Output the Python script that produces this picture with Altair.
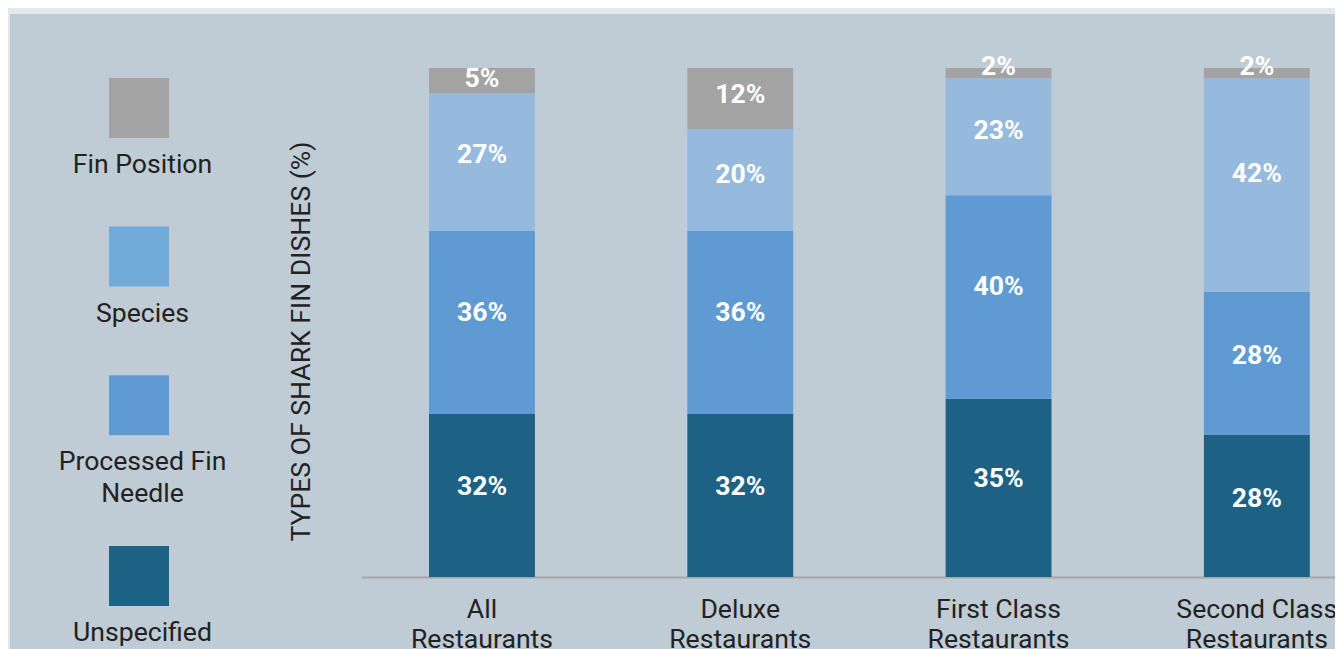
import altair as alt
import pandas as pd

# ---- data ----
categories = ["All Restaurants", "Deluxe Restaurants", "First Class Restaurants", "Second Class Restaurants"]
dish_types = ["Unspecified", "Processed Fin Needle", "Species", "Fin Position"]
unspecified = [32, 32, 35, 28]
processed_fin_needle = [36, 36, 40, 28]
species = [27, 20, 23, 42]
fin_position = [5, 12, 2, 2]

bar_colors = ["#1d6184", "#5f9bd2", "#96b9de", "#a3a3a3"]
legend_order = ["Fin Position", "Species", "Processed Fin Needle", "Unspecified"]
legend_colors = ["#a3a3a3", "#70abda", "#5f9bd2", "#1d6184"]
legend_texts = ["Fin Position", "Species", "Processed Fin\nNeedle", "Unspecified"]

y_title = "TYPES OF SHARK FIN DISHES (%)"

series = [unspecified, processed_fin_needle, species, fin_position]
rows = []
for ci, cat in enumerate(categories):
    for ti, t in enumerate(dish_types):
        rows.append({"category": cat, "type": t, "value": series[ti][ci], "order": ti})
df = pd.DataFrame(rows)

legend_df = pd.DataFrame({"type": legend_order, "label": legend_texts,
                          "order": list(range(len(legend_order)))})

FONT = "Roboto"
TEXT = "#222222"
FS = 26.6
PAGE_BG = "#e5e7ea"
PANEL_BG = "#bfccd5"

# ---- main stacked bars ----
base = alt.Chart(df).transform_stack(
    stack="value",
    groupby=["category"],
    as_=["y0", "y1"],
    sort=[alt.SortField("order", "ascending")],
)

x_scale = alt.Scale(paddingInner=0.59, paddingOuter=0.1805, align=0.7296)
y_scale = alt.Scale(domain=[0, 100], nice=False, zero=True)

x_enc = alt.X(
    "category:N",
    sort=categories,
    scale=x_scale,
    axis=alt.Axis(
        title=None,
        labelAngle=0,
        labelExpr="[substring(datum.label, 0, indexof(datum.label, ' Restaurants')), 'Restaurants']",
        labelFont=FONT,
        labelFontSize=FS,
        labelColor=TEXT,
        labelLineHeight=30,
        labelBaseline="alphabetic",
        labelPadding=40,
        ticks=False,
        tickSize=0,
        domainColor="#a6a6a6",
        domainWidth=2,
        grid=False,
    ),
)

bars = base.mark_bar().encode(
    x=x_enc,
    y=alt.Y(
        "y0:Q",
        scale=y_scale,
        axis=alt.Axis(
            title=y_title,
            labels=False,
            ticks=False,
            domain=False,
            grid=False,
            titleFont=FONT,
            titleFontSize=FS,
            titleFontWeight="normal",
            titleColor=TEXT,
            titlePadding=46,
            titleY=273,
        ),
    ),
    y2="y1:Q",
    color=alt.Color("type:N", scale=alt.Scale(domain=dish_types, range=bar_colors), legend=None),
)

labels = base.transform_calculate(
    ly="datum.value < 4 ? datum.y1 + 0.1 : datum.y1 - 0.45 * datum.value",
    txt="datum.value + '%'",
).mark_text(
    color="white", font=FONT, fontWeight="bold", fontSize=FS, baseline="middle", align="center"
).encode(
    x=alt.X("category:N", sort=categories, scale=x_scale),
    y=alt.Y("ly:Q", scale=y_scale, axis=None),
    text="txt:N",
)

# ---- custom legend (left of the plot) ----
# slot position: item index, pushed down a little after a two-line label
leg_base = alt.Chart(legend_df).transform_calculate(
    extra="indexof(datum.label, '\\n') >= 0 ? 1 : 0"
).transform_window(
    cum_extra="sum(extra)", sort=[alt.SortField("order", "ascending")], frame=[None, 0]
).transform_calculate(
    slot="datum.order + 0.15 * (datum.cum_extra - datum.extra)"
)
leg_scale = alt.Scale(domain=[-0.269, 3.156], nice=False, zero=False, reverse=True)

squares = leg_base.mark_square(size=3600, opacity=1, filled=True).encode(
    x=alt.value(-222),
    y=alt.Y("slot:Q", axis=None, scale=leg_scale),
    color=alt.Color("type:N", scale=alt.Scale(domain=legend_order, range=legend_colors), legend=None),
)
leg_text = leg_base.mark_text(
    dy=65, baseline="alphabetic", align="center", font=FONT, fontSize=FS,
    color=TEXT, lineBreak="\n", lineHeight=32,
).encode(
    x=alt.value(-218.5),
    y=alt.Y("slot:Q", axis=None, scale=leg_scale),
    text="label:N",
)

# ---- light page frame along the top and left edges (decoration) ----
frame_df = pd.DataFrame({"part": ["top", "left"]})
frame_top = alt.Chart(frame_df).transform_filter("datum.part == 'top'").mark_rect(
    color=PAGE_BG
).encode(x=alt.value(-353), x2=alt.value(974), y=alt.value(-60), y2=alt.value(-54))
frame_left = alt.Chart(frame_df).transform_filter("datum.part == 'left'").mark_rect(
    color=PAGE_BG
).encode(x=alt.value(-353), x2=alt.value(-351), y=alt.value(-60), y2=alt.value(581))

chart = alt.layer(frame_top, frame_left, bars, labels, squares, leg_text).resolve_scale(
    y="independent", color="independent"
).properties(
    width=974,
    height=509,
    padding={"left": 353, "top": 60, "right": 0, "bottom": 72},
    autosize=alt.AutoSizeParams(type="none"),
    background=PANEL_BG,
).configure_view(strokeWidth=0)

chart.save("out.html", embed_options={"renderer": "svg", "actions": False})
